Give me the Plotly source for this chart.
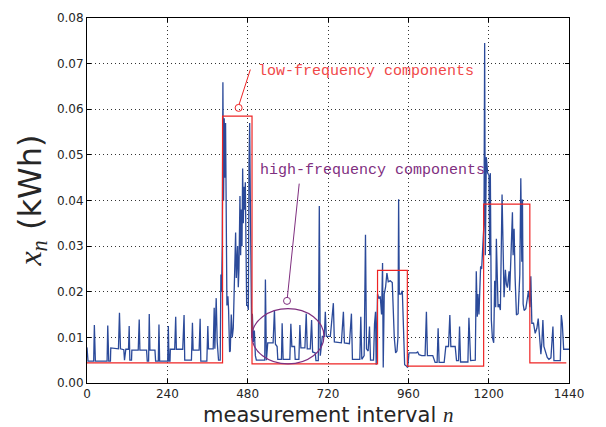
import plotly.graph_objects as go

n_points = [
    0, 3, 20, 22, 25, 60, 62, 65, 70, 71, 94, 97, 100, 110, 112, 116, 124, 126, 128, 133,
    134, 153, 156, 158, 178, 180, 184, 186, 188, 203, 205, 213, 215, 217, 241, 243, 245, 248,
    249, 262, 265, 267, 286, 290, 292, 312, 315, 317, 335, 338, 340, 358, 361, 363, 377, 380,
    382, 384, 386, 389, 393, 398,
    400, 402, 404, 406, 408, 410, 412, 414, 416, 418, 421, 423, 426, 428, 431, 434, 437, 441,
    444, 446, 448, 450, 452, 454, 457, 459, 461, 463, 465, 467, 469, 471, 473, 475, 477, 480,
    482, 484, 486, 488, 490,
    492, 494, 497, 500, 503, 506, 531, 533, 536, 540, 556, 560, 563, 568, 570, 581, 583, 586,
    606, 609, 612, 620, 622, 633, 636, 639, 651, 655, 658, 667, 671, 674, 682, 684, 691, 694,
    697, 700, 703, 709, 712, 715, 727, 736, 739, 760, 766, 769, 784, 790, 793, 815, 818, 821,
    828, 832, 835, 840, 844, 847, 856, 859, 862, 864, 868, 872, 876, 880, 883, 885, 888, 892,
    896, 900, 906, 912, 915, 918, 922, 926, 929, 931, 933, 938, 942, 945, 949, 953, 958, 962,
    984, 988, 992, 1000, 1010, 1014, 1017, 1033, 1040, 1046, 1049, 1052, 1067, 1072, 1080, 1084,
    1087, 1100, 1104, 1110, 1113, 1116, 1138, 1141, 1144, 1146, 1160, 1163, 1166, 1168, 1171,
    1176, 1179, 1182, 1186, 1188, 1190, 1193, 1197, 1201, 1203, 1205, 1208, 1211, 1215, 1218,
    1221, 1223, 1226, 1228, 1231, 1235, 1240, 1243, 1246, 1250, 1253, 1256, 1261, 1263, 1266,
    1271, 1273, 1276, 1279, 1283, 1288, 1293, 1296, 1299, 1301, 1303, 1306, 1311, 1316, 1319,
    1323, 1326, 1329, 1334, 1339, 1344, 1348, 1352, 1356, 1359, 1362, 1365, 1370, 1375, 1380,
    1386, 1392, 1395, 1414, 1417, 1420, 1424, 1440,
]
kwh_values = [
    0.0078, 0.0048, 0.0048, 0.0127, 0.0048, 0.0048, 0.0126, 0.0048, 0.0048, 0.0077, 0.0075, 0.0154, 0.0075, 0.0073, 0.0050, 0.0074, 0.0074, 0.0125, 0.0050, 0.0050,
    0.0072, 0.0072, 0.0139, 0.0072, 0.0072, 0.0048, 0.0048, 0.0151, 0.0072, 0.0072, 0.0048, 0.0048, 0.0128, 0.0048, 0.0048, 0.0125, 0.0048, 0.0048,
    0.0074, 0.0074, 0.0145, 0.0074, 0.0074, 0.0149, 0.0050, 0.0050, 0.0132, 0.0072, 0.0072, 0.0141, 0.0048, 0.0048, 0.0125, 0.0075, 0.0075, 0.0165,
    0.0075, 0.0140, 0.0186, 0.0090, 0.0050, 0.0050,
    0.0238, 0.0200, 0.0300, 0.0659, 0.0400, 0.0580, 0.0450, 0.0570, 0.0380, 0.0170, 0.0190, 0.0160, 0.0068, 0.0070, 0.0150, 0.0100, 0.0120, 0.0280,
    0.0330, 0.0230, 0.0260, 0.0300, 0.0210, 0.0250, 0.0410, 0.0280, 0.0380, 0.0300, 0.0470, 0.0350, 0.0430, 0.0380, 0.0440, 0.0250, 0.0170, 0.0170,
    0.0160, 0.0480, 0.0570, 0.0400, 0.0180,
    0.0100, 0.0152, 0.0090, 0.0115, 0.0060, 0.0050, 0.0050, 0.0227, 0.0050, 0.0088, 0.0088, 0.0160, 0.0085, 0.0080, 0.0052, 0.0052, 0.0131, 0.0052,
    0.0052, 0.0130, 0.0080, 0.0080, 0.0052, 0.0052, 0.0127, 0.0077, 0.0077, 0.0152, 0.0075, 0.0075, 0.0138, 0.0068, 0.0066, 0.0049, 0.0049, 0.0388,
    0.0060, 0.0080, 0.0102, 0.0102, 0.0156, 0.0102, 0.0102, 0.0175, 0.0090, 0.0088, 0.0156, 0.0088, 0.0086, 0.0152, 0.0052, 0.0052, 0.0145, 0.0052,
    0.0060, 0.0325, 0.0075, 0.0070, 0.0124, 0.0050, 0.0050, 0.0130, 0.0156, 0.0040, 0.0195, 0.0185, 0.0190, 0.0150, 0.0263, 0.0034, 0.0195, 0.0210,
    0.0241, 0.0222, 0.0224, 0.0220, 0.0130, 0.0100, 0.0066, 0.0070, 0.0100, 0.0403, 0.0195, 0.0195, 0.0202, 0.0113, 0.0040, 0.0038, 0.0034, 0.0066,
    0.0066, 0.0068, 0.0062, 0.0060, 0.0060, 0.0156, 0.0060, 0.0060, 0.0045, 0.0045, 0.0120, 0.0045, 0.0045, 0.0080, 0.0080, 0.0149,
    0.0080, 0.0080, 0.0049, 0.0049, 0.0124, 0.0046, 0.0046, 0.0143, 0.0049, 0.0049, 0.0050, 0.0245, 0.0145, 0.0195, 0.0150,
    0.0256, 0.0250, 0.0290, 0.0350, 0.0745, 0.0280, 0.0495, 0.0460, 0.0455, 0.0280, 0.0460, 0.0138, 0.0100, 0.0088, 0.0224,
    0.0166, 0.0316, 0.0245, 0.0166, 0.0173, 0.0160, 0.0413, 0.0280, 0.0188, 0.0248, 0.0216, 0.0209, 0.0245, 0.0202, 0.0280,
    0.0374, 0.0280, 0.0338, 0.0230, 0.0149, 0.0152, 0.0238, 0.0449, 0.0266, 0.0402, 0.0173, 0.0159, 0.0163, 0.0188, 0.0202,
    0.0166, 0.0234, 0.0131, 0.0131, 0.0109, 0.0120, 0.0141, 0.0095, 0.0063, 0.0090, 0.0138, 0.0080, 0.0066, 0.0056, 0.0052,
    0.0055, 0.0124, 0.0049, 0.0049, 0.0149, 0.0131, 0.0074, 0.0074,
]

# ---- red piecewise-constant (low-frequency) level ----
step_n = [0, 405, 493, 868, 957, 1185, 1323, 1432]
step_kwh = [0.0044, 0.0585, 0.0042, 0.0247, 0.0037, 0.0392, 0.0044, 0.0044]

# ---- annotation anchors (data units) ----
low_label_n, low_label_y = 504, 0.0682
low_line_n = [488, 454.2]
low_line_y = [0.0687, 0.0610]
low_circle_n, low_circle_y = 453, 0.0603

high_label_n, high_label_y = 510, 0.0465
high_line_n = [634, 598.5]
high_line_y = [0.0437, 0.0187]
high_circle_n, high_circle_y = 597.6, 0.0180
ellipse_n = [493, 708]
ellipse_y = [0.0042, 0.0163]

x_ticks = [0, 240, 480, 720, 960, 1200, 1440]
y_ticks = [0.00, 0.01, 0.02, 0.03, 0.04, 0.05, 0.06, 0.07, 0.08]

BLUE = "#2b4a9a"
RED = "#ee2424"
RED_TXT = "#f04848"
PURPLE = "#7f2f7f"
INK = "#262626"

fig = go.Figure()
fig.add_trace(go.Scatter(x=n_points, y=kwh_values, mode="lines",
                         line=dict(color=BLUE, width=1.3), showlegend=False))
fig.add_trace(go.Scatter(x=step_n, y=step_kwh, mode="lines",
                         line=dict(color=RED, width=1.2, shape="hv"), showlegend=False))
fig.add_trace(go.Scatter(x=low_line_n, y=low_line_y, mode="lines",
                         line=dict(color=RED, width=1), showlegend=False))
fig.add_trace(go.Scatter(x=[low_circle_n], y=[low_circle_y], mode="markers",
                         marker=dict(symbol="circle-open", size=7, color=RED,
                                     line=dict(width=1, color=RED)), showlegend=False))
fig.add_trace(go.Scatter(x=high_line_n, y=high_line_y, mode="lines",
                         line=dict(color=PURPLE, width=1), showlegend=False))
fig.add_trace(go.Scatter(x=[high_circle_n], y=[high_circle_y], mode="markers",
                         marker=dict(symbol="circle-open", size=7, color=PURPLE,
                                     line=dict(width=1, color=PURPLE)), showlegend=False))

fig.add_shape(type="circle", xref="x", yref="y",
              x0=ellipse_n[0], x1=ellipse_n[1], y0=ellipse_y[0], y1=ellipse_y[1],
              line=dict(color=PURPLE, width=1.2))

fig.add_annotation(x=low_label_n, y=low_label_y, xref="x", yref="y",
                   text="low-frequency components", showarrow=False,
                   xanchor="left", yanchor="middle",
                   font=dict(family="Liberation Mono", size=15, color=RED_TXT))
fig.add_annotation(x=high_label_n, y=high_label_y, xref="x", yref="y",
                   text="high-frequency components", showarrow=False,
                   xanchor="left", yanchor="middle",
                   font=dict(family="Liberation Mono", size=15, color=PURPLE))

# axis titles
fig.add_annotation(x=0.5, y=-0.088, xref="paper", yref="paper",
                   text='measurement interval <span style="font-family:Liberation Serif"><i>n</i></span>',
                   showarrow=False, xanchor="center", yanchor="middle",
                   font=dict(family="DejaVu Sans", size=21, color=INK))
fig.add_annotation(x=-0.116, y=0.5, xref="paper", yref="paper", textangle=-90,
                   text='<span style="font-family:Liberation Serif"><i>x</i><sub><i>n</i></sub></span> (kWh)',
                   showarrow=False, xanchor="center", yanchor="middle",
                   font=dict(family="DejaVu Sans", size=32, color=INK))

axis_common = dict(
    showline=True, linecolor="black", linewidth=1, mirror="ticks",
    ticks="inside", ticklen=4, tickwidth=1, tickcolor="black",
    showgrid=True, gridcolor="#333333", gridwidth=1, griddash="1px,3px",
    zeroline=False,
    tickfont=dict(family="DejaVu Sans", size=12, color=INK),
)

fig.update_xaxes(range=[0, 1440], tickvals=x_ticks, ticktext=[str(v) for v in x_ticks],
                 **axis_common)
fig.update_yaxes(range=[0, 0.08], tickvals=y_ticks, ticktext=[f"{v:.2f}" for v in y_ticks],
                 **axis_common)

fig.update_layout(
    width=606, height=427,
    margin=dict(l=87, r=37, t=11, b=44),
    paper_bgcolor="white", plot_bgcolor="white",
    showlegend=False,
)

fig.write_html("out.html")
